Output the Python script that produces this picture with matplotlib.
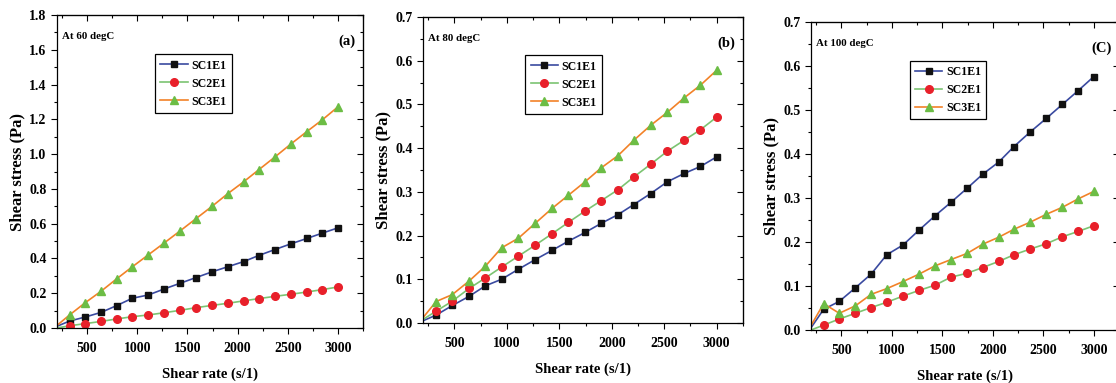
import numpy as np
import matplotlib
matplotlib.use("Agg")
import matplotlib.pyplot as plt
from matplotlib.ticker import MultipleLocator

plt.rcParams["font.family"] = ["Liberation Serif", "DejaVu Serif"]
plt.rcParams["font.weight"] = "bold"

# shear rate (s/1); first point has no marker
shear_rate = [200, 325, 480, 640, 795, 950, 1110, 1270, 1430, 1585, 1745,
              1900, 2060, 2210, 2370, 2530, 2690, 2845, 3000]

# (a) 60 degC
a_sc1 = [0.010, 0.040, 0.063, 0.090, 0.129, 0.171, 0.190, 0.225, 0.258, 0.290, 0.323,
         0.352, 0.382, 0.417, 0.451, 0.484, 0.515, 0.546, 0.576]
a_sc2 = [0.000, 0.013, 0.025, 0.038, 0.052, 0.065, 0.075, 0.088, 0.102, 0.117, 0.130,
         0.142, 0.156, 0.169, 0.182, 0.194, 0.207, 0.221, 0.236]
a_sc3 = [0.015, 0.075, 0.145, 0.212, 0.283, 0.352, 0.421, 0.490, 0.560, 0.629, 0.700,
         0.772, 0.841, 0.910, 0.983, 1.058, 1.130, 1.198, 1.272]

# (b) 80 degC
b_sc1 = [0.005, 0.018, 0.040, 0.061, 0.085, 0.100, 0.123, 0.145, 0.166, 0.187, 0.207,
         0.228, 0.248, 0.271, 0.296, 0.323, 0.342, 0.358, 0.380]
b_sc2 = [0.008, 0.027, 0.050, 0.079, 0.103, 0.128, 0.153, 0.178, 0.204, 0.230, 0.256,
         0.280, 0.305, 0.334, 0.363, 0.393, 0.418, 0.442, 0.471]
b_sc3 = [0.012, 0.049, 0.065, 0.096, 0.130, 0.172, 0.194, 0.228, 0.262, 0.292, 0.323,
         0.355, 0.383, 0.418, 0.452, 0.482, 0.515, 0.544, 0.578]

# (c) 100 degC
c_sc1 = [0.005, 0.047, 0.065, 0.096, 0.127, 0.171, 0.193, 0.227, 0.260, 0.290, 0.322,
         0.354, 0.382, 0.417, 0.450, 0.481, 0.513, 0.544, 0.576]
c_sc2 = [0.000, 0.011, 0.025, 0.038, 0.051, 0.063, 0.077, 0.090, 0.102, 0.120, 0.129,
         0.142, 0.156, 0.171, 0.184, 0.196, 0.212, 0.224, 0.237]
c_sc3 = [0.010, 0.060, 0.038, 0.055, 0.081, 0.094, 0.110, 0.127, 0.146, 0.160, 0.174,
         0.195, 0.211, 0.229, 0.245, 0.263, 0.279, 0.298, 0.315]

series_names = ["SC1E1", "SC2E1", "SC3E1"]
line_colors = ["#3a4aa0", "#7cc472", "#f28228"]
marker_colors = ["#111111", "#e8202a", "#6cbd45"]
markers = ["s", "o", "^"]
marker_sizes = [5.0, 5.5, 6.0]

panels = [
    dict(data=[a_sc1, a_sc2, a_sc3], ymax=1.8, major=0.2, minor=0.1, temp="At 60 degC", tag="(a)",
         rect=[0.0511, 0.1436, 0.2742, 0.817]),
    dict(data=[b_sc1, b_sc2, b_sc3], ymax=0.7, major=0.1, minor=0.05, temp="At 80 degC", tag="(b)",
         rect=[0.379, 0.1567, 0.2867, 0.799]),
    dict(data=[c_sc1, c_sc2, c_sc3], ymax=0.7, major=0.1, minor=0.05, temp="At 100 degC", tag="(C)",
         rect=[0.7267, 0.1384, 0.276, 0.804]),
]

fig = plt.figure(figsize=(11.16, 3.83), dpi=100)

for p in panels:
    ax = fig.add_axes(p["rect"])
    for vals, name, lc, mc, mk, ms in zip(p["data"], series_names, line_colors,
                                          marker_colors, markers, marker_sizes):
        ax.plot(shear_rate, vals, color=lc, lw=1.2, marker=mk, ms=ms,
                markerfacecolor=mc, markeredgecolor=mc, markevery=list(range(1, len(shear_rate))),
                label=name)

    ax.set_xlim(200, 3250)
    ax.set_ylim(0, p["ymax"])
    ax.set_xticks([500, 1000, 1500, 2000, 2500, 3000])
    ax.xaxis.set_minor_locator(MultipleLocator(250))
    ax.yaxis.set_major_locator(MultipleLocator(p["major"]))
    ax.yaxis.set_minor_locator(MultipleLocator(p["minor"]))
    ax.yaxis.set_major_formatter(plt.FormatStrFormatter("%.1f"))

    ax.tick_params(axis="both", which="both", direction="out", labelsize=10, width=0.8)
    ax.tick_params(which="major", length=4)
    ax.tick_params(which="minor", length=2.5)
    ax.tick_params(axis="x", pad=6)
    for lab in ax.get_xticklabels() + ax.get_yticklabels():
        lab.set_fontweight("bold")

    # mirrored inward ticks on top and right
    secx = ax.secondary_xaxis("top")
    secx.xaxis.set_major_locator(MultipleLocator(500))
    secx.xaxis.set_minor_locator(MultipleLocator(250))
    secx.tick_params(which="both", direction="in", labeltop=False, width=0.8)
    secx.tick_params(which="major", length=4)
    secx.tick_params(which="minor", length=2.5)
    secy = ax.secondary_yaxis("right")
    secy.yaxis.set_major_locator(MultipleLocator(p["major"]))
    secy.yaxis.set_minor_locator(MultipleLocator(p["minor"]))
    secy.tick_params(which="both", direction="in", labelright=False, width=0.8)
    secy.tick_params(which="major", length=4)
    secy.tick_params(which="minor", length=2.5)

    for s in ax.spines.values():
        s.set_linewidth(0.9)

    ax.set_xlabel("Shear rate (s/1)", fontsize=10.5, fontweight="bold", labelpad=9)
    ax.set_ylabel("Shear stress (Pa)", fontsize=12, fontweight="bold", labelpad=3)

    ax.text(0.016, 0.93, p["temp"], transform=ax.transAxes, fontsize=7.8,
            fontweight="bold", va="center", ha="left")
    ax.text(0.975, 0.915, p["tag"], transform=ax.transAxes, fontsize=10.5,
            fontweight="bold", va="center", ha="right")

    leg = ax.legend(loc="upper left", bbox_to_anchor=(0.32, 0.875), fontsize=8.6,
                    frameon=True, fancybox=False, edgecolor="black", framealpha=1,
                    handlelength=2.3, handletextpad=0.3, borderpad=0.45,
                    labelspacing=0.5, borderaxespad=0)
    leg.get_frame().set_linewidth(0.9)
    for t in leg.get_texts():
        t.set_fontweight("bold")

fig.savefig("out.png", dpi=100)
